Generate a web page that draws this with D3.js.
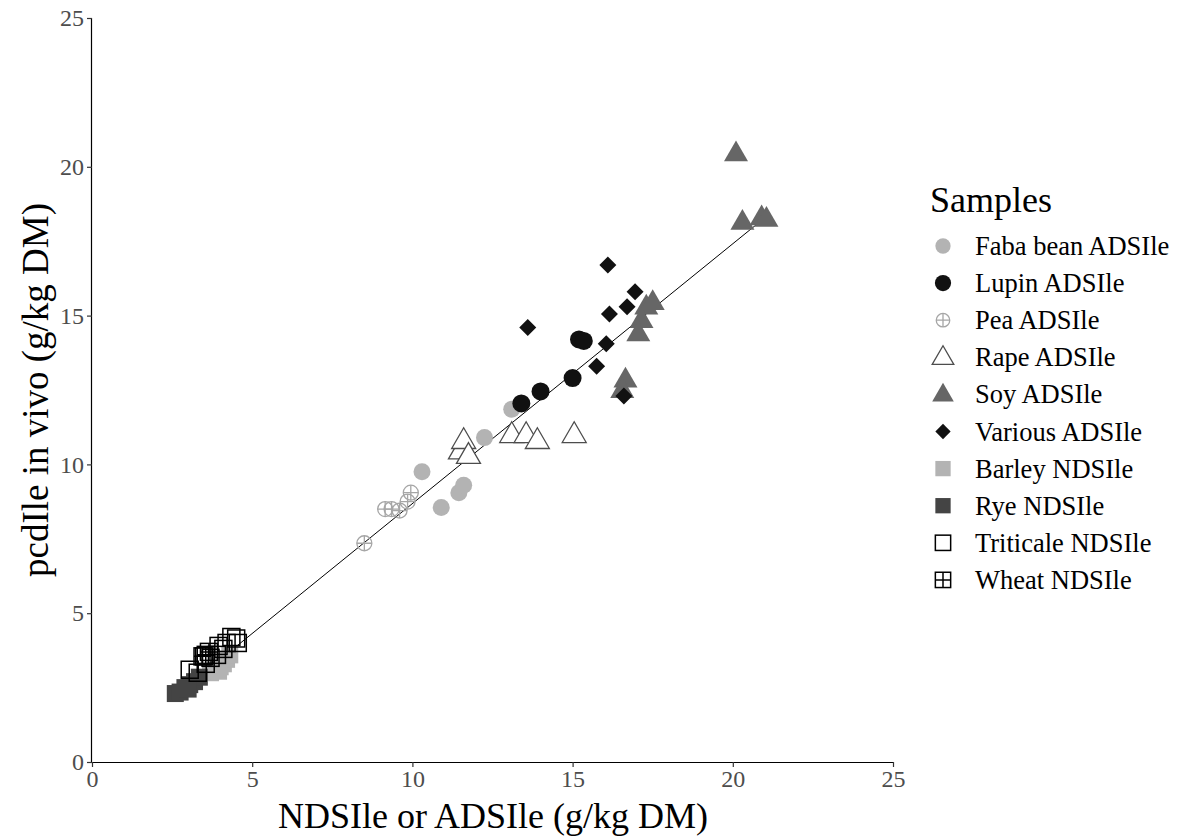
<!DOCTYPE html>
<html><head><meta charset="utf-8">
<script src="https://cdn.jsdelivr.net/npm/d3@7"></script>
<style>body{margin:0;background:#fff}svg{display:block}text{font-family:"Liberation Serif","Times New Roman",serif}</style>
</head><body><svg id="c" width="1198" height="840"></svg>
<script>
const seriesNames = ["Faba bean ADSIle","Lupin ADSIle","Pea ADSIle","Rape ADSIle","Soy ADSIle","Various ADSIle","Barley NDSIle","Rye NDSIle","Triticale NDSIle","Wheat NDSIle"];
const fabaBean = [[10.3,9.75],[10.9,8.55],[11.45,9.05],[11.6,9.3],[12.25,10.9],[13.1,11.85]];
const lupin = [[13.4,12.05],[14.0,12.45],[15.0,12.9],[15.2,14.2],[15.35,14.15]];
const pea = [[8.5,7.35],[9.15,8.5],[9.35,8.5],[9.6,8.45],[9.85,8.75],[9.95,9.05]];
const rape = [[11.5,10.45],[11.6,10.8],[11.75,10.3],[13.1,11.0],[13.55,11.0],[13.9,10.8],[15.05,11.0]];
const soy = [[20.1,20.45],[20.3,18.15],[20.9,18.3],[21.05,18.25],[17.3,15.3],[17.5,15.45],[17.15,14.85],[17.05,14.4],[16.65,12.85],[16.55,12.5]];
const various = [[13.6,14.6],[16.1,16.7],[16.95,15.8],[16.7,15.3],[16.15,15.05],[16.05,14.05],[15.75,13.3],[16.6,12.3]];
const barley = [[3.7,3.0],[3.85,3.1],[4.0,3.2],[4.1,3.3],[4.2,3.45],[3.95,3.05],[4.3,3.6]];
const rye = [[2.6,2.3],[2.75,2.35],[2.9,2.5],[3.05,2.6],[3.2,2.7],[3.35,2.85],[3.0,2.45]];
const triticale = [[3.05,3.1],[3.3,3.0],[3.55,3.3],[3.7,3.5],[3.9,3.6],[4.1,3.8],[4.2,4.0],[4.35,4.2],[4.5,4.15],[4.55,4.0],[3.5,3.55],[3.95,3.9]];
const wheat = [[3.45,3.55],[3.55,3.6],[3.65,3.7]];
const xTicks = [0,5,10,15,20,25];
const yTicks = [0,5,10,15,20,25];
const fitLine = [[2.7,2.31],[20.9,18.2]];

const svg = d3.select("#c");
const x = d3.scaleLinear().domain([0,25]).range([92,893]);
const y = d3.scaleLinear().domain([0,25]).range([762,18]);

const styles = [
  {type:"circle", fill:"#b3b3b3", stroke:"none", r:8.5},
  {type:"circle", fill:"#111", stroke:"none", r:9},
  {type:"pluscircle", fill:"none", stroke:"#a6a6a6", r:7.5},
  {type:"triangle", fill:"#fff", stroke:"#4d4d4d", r:12},
  {type:"triangle", fill:"#666", stroke:"none", r:12},
  {type:"diamond", fill:"#111", stroke:"none", r:8.5},
  {type:"square", fill:"#b3b3b3", stroke:"none", r:8.5},
  {type:"square", fill:"#444", stroke:"none", r:8.5},
  {type:"square", fill:"none", stroke:"#000", r:8.5},
  {type:"plussquare", fill:"none", stroke:"#000", r:8.5}
];
const data = [fabaBean,lupin,pea,rape,soy,various,barley,rye,triticale,wheat];

function drawSym(g, st, cx, cy, scale){
  const r = st.r*scale;
  if(st.type==="circle"||st.type==="pluscircle"){
    g.append("circle").attr("cx",cx).attr("cy",cy).attr("r",r).attr("fill",st.fill).attr("stroke",st.stroke).attr("stroke-width",1.3);
    if(st.type==="pluscircle"){
      g.append("path").attr("d",`M${cx-r},${cy}H${cx+r}M${cx},${cy-r}V${cy+r}`).attr("stroke",st.stroke).attr("stroke-width",1.3);
    }
  } else if(st.type==="triangle"){
    const h = r*1.732;
    g.append("path").attr("d",`M${cx},${cy-h*0.62}L${cx+r},${cy+h*0.38}L${cx-r},${cy+h*0.38}Z`).attr("fill",st.fill).attr("stroke",st.stroke).attr("stroke-width",1.3);
  } else if(st.type==="diamond"){
    g.append("path").attr("d",`M${cx},${cy-r}L${cx+r},${cy}L${cx},${cy+r}L${cx-r},${cy}Z`).attr("fill",st.fill);
  } else {
    g.append("rect").attr("x",cx-r).attr("y",cy-r).attr("width",2*r).attr("height",2*r).attr("fill",st.fill).attr("stroke",st.stroke).attr("stroke-width",1.5);
    if(st.type==="plussquare"){
      g.append("path").attr("d",`M${cx-r},${cy}H${cx+r}M${cx},${cy-r}V${cy+r}`).attr("stroke",st.stroke).attr("stroke-width",1.5);
    }
  }
}

const xa = svg.append("g").attr("transform","translate(0,762)").call(d3.axisBottom(x).tickValues(xTicks).tickSize(5).tickPadding(3));
const ya = svg.append("g").attr("transform","translate(92,0)").call(d3.axisLeft(y).tickValues(yTicks).tickSize(5).tickPadding(3));
[xa,ya].forEach(a=>{
  a.selectAll(".tick line").attr("stroke","#333").attr("stroke-width",1.2);
  a.selectAll(".tick text").attr("fill","#4d4d4d").style("font-size","24px");
});
xa.select(".domain").attr("stroke","#000").attr("stroke-width",1.2).attr("d","M92,0.5H893");
ya.select(".domain").attr("stroke","#000").attr("stroke-width",1.2).attr("d","M-0.5,18V762");

svg.append("path").datum(fitLine).attr("d",d3.line().x(d=>x(d[0])).y(d=>y(d[1]))).attr("stroke","#000").attr("stroke-width",1).attr("fill","none");

const pg = svg.append("g");
data.forEach((arr,i)=>{
  arr.forEach(d=>drawSym(pg, styles[i], x(d[0]), y(d[1]), 1));
});

svg.append("text").attr("x",493).attr("y",828).attr("text-anchor","middle").style("font-size","36px").attr("fill","#000").text("NDSIle or ADSIle (g/kg DM)");
svg.append("text").attr("transform","translate(48,390) rotate(-90)").attr("text-anchor","middle").style("font-size","37px").attr("fill","#000").text("pcdIle in vivo (g/kg DM)");

const lg = svg.append("g");
lg.append("text").attr("x",930).attr("y",212).style("font-size","36px").text("Samples");
seriesNames.forEach((n,i)=>{
  const cy = 246 + i*37.1;
  drawSym(lg, styles[i], 943, cy, 0.9);
  lg.append("text").attr("x",975).attr("y",cy+9).style("font-size","26.5px").text(n);
});
</script></body></html>
